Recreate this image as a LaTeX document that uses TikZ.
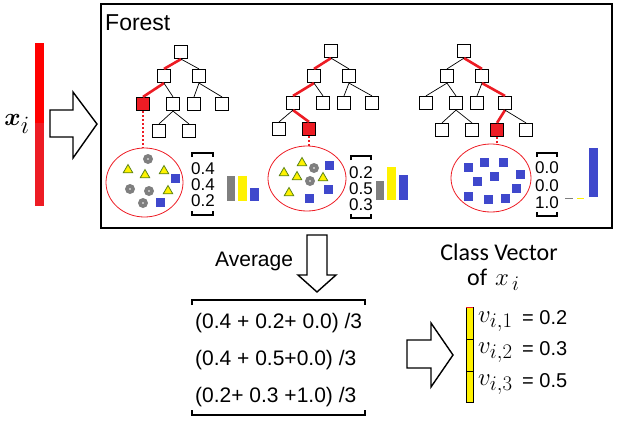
\documentclass[tikz,border=0pt]{standalone}
\usepackage[no-math]{fontspec}
\setmainfont{Liberation Sans}
\newfontfamily\calibrifont{Carlito}
\usepackage{bm}
\usetikzlibrary{shapes.geometric}

\definecolor{hitred}{RGB}{237,28,36}
\definecolor{cubeblue}{RGB}{63,72,204}
\definecolor{bargray}{RGB}{127,127,127}
\definecolor{baryellow}{RGB}{255,242,0}
\definecolor{triedge}{RGB}{90,130,20}

\begin{document}
\begin{tikzpicture}[
    x=1pt, y=-1pt,
    leaf/.style={
        draw,
        fill=white,
        line width=1.2pt,
        minimum size=13pt,
        inner sep=0pt
    },
    hit/.style={leaf, fill=hitred},
    branch/.style={line width=0.7pt},
    redpath/.style={draw=hitred, line width=2.6pt},
    probe/.style={
        draw=hitred,
        line width=1.6pt,
        dash pattern=on 2pt off 2pt
    },
    leafset/.style={
        draw=hitred,
        ellipse,
        line width=0.8pt,
        inner sep=0pt
    },
    ball/.style={
        circle,
        fill=bargray,
        minimum size=10pt,
        inner sep=0pt,
        path picture={\fill[white] (path picture bounding box.center) circle (0.8pt);}
    },
    tri/.style={
        regular polygon,
        regular polygon sides=3,
        fill=baryellow,
        draw=triedge,
        line width=0.8pt,
        minimum size=11pt,
        inner sep=0pt
    },
    cube/.style={fill=cubeblue, minimum size=9pt, inner sep=0pt},
    brk/.style={line width=2pt},
    num/.style={
        anchor=base,
        font=\fontsize{17}{17}\selectfont,
        inner sep=0pt
    },
    blockarrow/.style={draw, line width=1.4pt, fill=white, line join=miter},
    cell/.style={draw, fill=baryellow, line width=0.8pt}
]
\useasboundingbox (0,0) rectangle (625,426);

% input vector
\fill[red] (35,43) rectangle (44,123);
\fill[hitred] (35,123) rectangle (44,206);
\node[font=\fontsize{34}{34}\selectfont] (xin) at (17,124) {$\bm{x}_i$};
\draw[blockarrow] (50,110) -- (73,110) -- (73,92) -- (97,124) -- (73,158) -- (73,137) -- (50,137) -- cycle;

% forest frame
\draw[line width=1.5pt] (101,4) rectangle (612,228);
\node[anchor=base west, inner sep=0pt, font=\fontsize{23}{23}\selectfont] (title) at (105,30) {Forest};

% tree 1
\node[leaf] (a0) at (181,52) {};
\node[leaf] (a1) at (164,76) {};
\node[leaf] (a2) at (199,76) {};
\node[hit] (a3) at (143,104) {};
\node[leaf] (a4) at (173,104) {};
\node[leaf] (a5) at (194,104) {};
\node[leaf] (a6) at (222,104) {};
\node[leaf] (a7) at (159,131) {};
\node[leaf] (a8) at (189,131) {};
\draw[redpath] (a0.south) -- (a1.north);
\draw[redpath] (a1.south) -- (a3.north);
\draw[branch] (a0.south) -- (a2.north);
\draw[branch] (a1.south) -- (a4.north);
\draw[branch] (a2.south) -- (a5.north);
\draw[branch] (a2.south) -- (a6.north);
\draw[branch] (a4.south) -- (a7.north);
\draw[branch] (a4.south) -- (a8.north);

% tree 2
\node[leaf] (b0) at (331,51) {};
\node[leaf] (b1) at (314,76) {};
\node[leaf] (b2) at (349,76) {};
\node[leaf] (b3) at (293,103) {};
\node[leaf] (b4) at (323,103) {};
\node[leaf] (b5) at (344,103) {};
\node[leaf] (b6) at (372,103) {};
\node[leaf] (b7) at (279,129) {};
\node[hit] (b8) at (309,129) {};
\draw[redpath] (b0.south) -- (b1.north);
\draw[redpath] (b1.south) -- (b3.north);
\draw[redpath] (b3.south) -- (b8.north);
\draw[branch] (b0.south) -- (b2.north);
\draw[branch] (b1.south) -- (b4.north);
\draw[branch] (b2.south) -- (b5.north);
\draw[branch] (b2.south) -- (b6.north);
\draw[branch] (b3.south) -- (b7.north);

% tree 3
\node[leaf] (c0) at (464,51) {};
\node[leaf] (c1) at (447,76) {};
\node[leaf] (c2) at (482,76) {};
\node[leaf] (c3) at (426,103) {};
\node[leaf] (c4) at (456,103) {};
\node[leaf] (c5) at (477,103) {};
\node[leaf] (c6) at (505,103) {};
\node[leaf] (c7) at (442,130) {};
\node[leaf] (c8) at (472,130) {};
\node[hit] (c9) at (497,130) {};
\node[leaf] (c10) at (526,130) {};
\draw[redpath] (c0.south) -- (c2.north);
\draw[redpath] (c2.south) -- (c6.north);
\draw[redpath] (c6.south) -- (c9.north);
\draw[branch] (c0.south) -- (c1.north);
\draw[branch] (c1.south) -- (c3.north);
\draw[branch] (c1.south) -- (c4.north);
\draw[branch] (c2.south) -- (c5.north);
\draw[branch] (c4.south) -- (c7.north);
\draw[branch] (c4.south) -- (c8.north);
\draw[branch] (c6.south) -- (c10.north);

% leaf contents
\node[leafset, minimum width=77pt, minimum height=69pt] (e1) at (144.5,182.5) {};
\node[leafset, minimum width=78pt, minimum height=65pt] (e2) at (307,178.5) {};
\node[leafset, minimum width=80pt, minimum height=68pt] (e3) at (491,178) {};
\draw[probe] (a3.south) -- (a3.south |- e1.north);
\draw[probe] (b8.south) -- (b8.south |- e2.north);
\draw[probe] (c9.south) -- (c9.south |- e3.north);

\foreach \p [count=\k] in {(148,159),(130,189),(149,191),(143,203)}
    \node[ball] (ballA\k) at \p {};
\foreach \p [count=\k] in {(128,170),(145,175),(164,171),(168,191)}
    \node[tri] (triA\k) at \p {};
\foreach \p [count=\k] in {(175,178),(160,202)}
    \node[cube] (cubeA\k) at \p {};

\foreach \p [count=\k] in {(314,168),(310,181)}
    \node[ball] (ballB\k) at \p {};
\foreach \p [count=\k] in {(284,173),(302,163),(297,177),(323,178),(289,193)}
    \node[tri] (triB\k) at \p {};
\foreach \p [count=\k] in {(329,165),(328,189),(309,198)}
    \node[cube] (cubeB\k) at \p {};

\foreach \p [count=\k] in {(468,167),(484,162),(503,162),(520,174),(494,176),(477,181),(516,188),(468,196),(488,199),(505,198)}
    \node[cube] (cubeC\k) at \p {};

% class vectors of the leaves
\foreach \t/\y [count=\k] in {0.4/174, 0.4/190, 0.2/206}
    \node[num] (vecA\k) at (203,\y) {\t};
\draw[brk] (192,157) |- (213,153) -- (213,157);
\draw[brk] (192,211) |- (213,215) -- (213,211);
\fill[bargray] (227,176) rectangle (235,201);
\fill[baryellow] (238,176) rectangle (247,201);
\fill[cubeblue] (250,188) rectangle (259,201);

\foreach \t/\y [count=\k] in {0.2/178, 0.5/194, 0.3/210}
    \node[num] (vecB\k) at (361,\y) {\t};
\draw[brk] (351,160) |- (371,156) -- (371,160);
\draw[brk] (351,214) |- (371,218) -- (371,214);
\fill[bargray] (376,181) rectangle (384,200);
\fill[baryellow] (387,167) rectangle (396,200);
\fill[cubeblue] (399,175) rectangle (408,200);

\foreach \t/\y [count=\k] in {0.0/173, 0.0/191, 1.0/208}
    \node[num] (vecC\k) at (547,\y) {\t};
\draw[brk] (537,157) |- (557,153) -- (557,157);
\draw[brk] (537,212) |- (557,216) -- (557,212);
\draw[bargray, line width=0.8pt] (565,198) -- (573,198);
\draw[baryellow, line width=0.8pt] (577,198) -- (584,198);
\fill[cubeblue] (589,148) rectangle (598,197);

% averaging
\draw[blockarrow] (307,235) -- (327,235) -- (327,275) -- (336,275) -- (317,292) -- (298,275) -- (307,275) -- cycle;
\node[anchor=base west, inner sep=0pt, font=\fontsize{21}{21}\selectfont] (avg) at (215,266) {Average};
\draw[line width=2.5pt] (192,305) |- (365,300) -- (365,305);
\draw[line width=2.5pt] (192,410) |- (365,415) -- (365,410);
\node[anchor=base west, inner sep=0pt, font=\fontsize{21}{21}\selectfont] (row1) at (195,328) {(0.4 + 0.2+ 0.0) /3};
\node[anchor=base west, inner sep=0pt, font=\fontsize{21}{21}\selectfont] (row2) at (195,365) {(0.4 + 0.5+0.0) /3};
\node[anchor=base west, inner sep=0pt, font=\fontsize{21}{21}\selectfont] (row3) at (195,402) {(0.2+ 0.3 +1.0) /3};

% result
\draw[blockarrow] (407,340) -- (431,340) -- (431,323) -- (453,355) -- (431,387) -- (431,368) -- (407,368) -- cycle;
\node[anchor=base, inner sep=0pt, font=\calibrifont\fontsize{24}{24}\selectfont] (cvtitle) at (499,260) {Class Vector};
\node[anchor=base west, inner sep=0pt, font=\calibrifont\fontsize{24}{24}\selectfont] (cvof) at (467,285) {of\hspace{8pt}\fontsize{30}{30}\selectfont$x_{\hspace{3pt}i}$};
\draw[cell] (466,307) rectangle (473,339);
\draw[cell] (466,339) rectangle (473,371);
\draw[cell] (466,371) rectangle (473,402);
\draw[hitred, line width=1pt] (466,307) -- (473,307);
\node[anchor=base west, inner sep=0pt, font=\fontsize{30}{30}\selectfont] (v1) at (478,322) {$v_{i,1}$};
\node[anchor=base west, inner sep=0pt, font=\fontsize{30}{30}\selectfont] (v2) at (478,353) {$v_{i,2}$};
\node[anchor=base west, inner sep=0pt, font=\fontsize{30}{30}\selectfont] (v3) at (478,385) {$v_{i,3}$};
\node[anchor=base west, inner sep=0pt, font=\fontsize{20}{20}\selectfont] (p1) at (522,324) {= 0.2};
\node[anchor=base west, inner sep=0pt, font=\fontsize{20}{20}\selectfont] (p2) at (522,355) {= 0.3};
\node[anchor=base west, inner sep=0pt, font=\fontsize{20}{20}\selectfont] (p3) at (522,387) {= 0.5};

\end{tikzpicture}
\end{document}
